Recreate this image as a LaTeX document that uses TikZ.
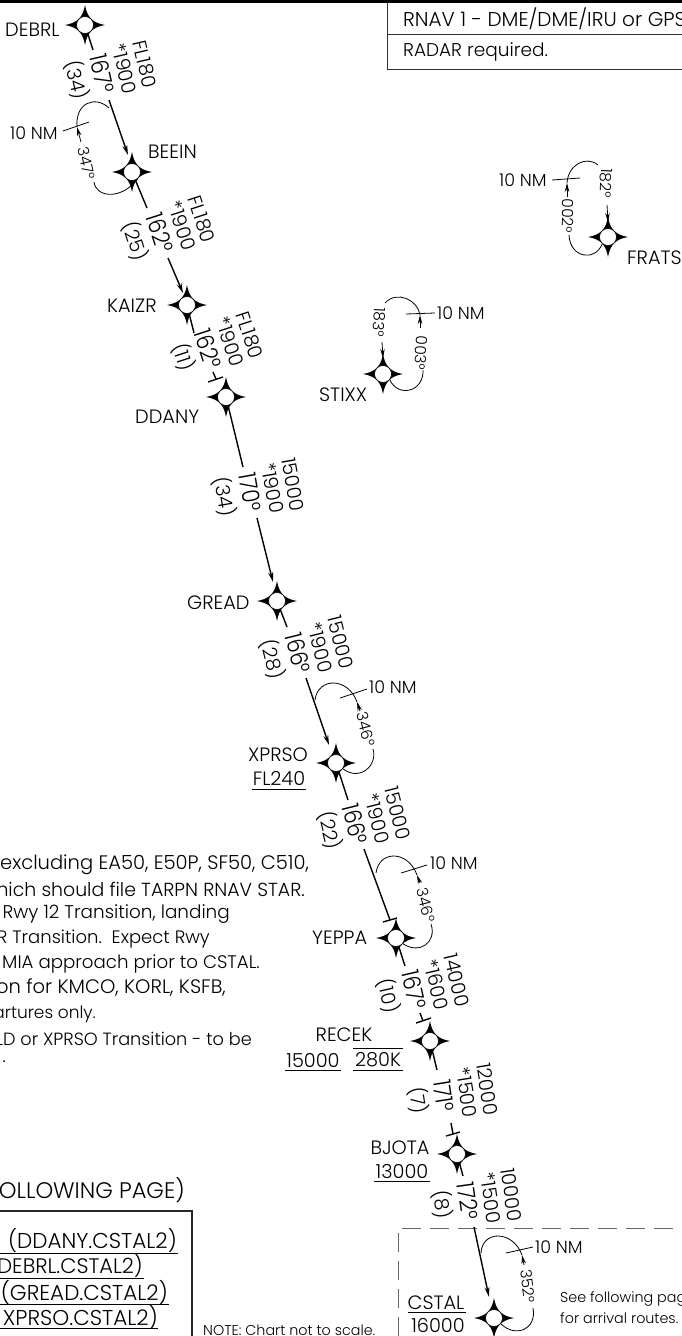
\documentclass[tikz,border=0pt]{standalone}
\usepackage{fontspec}
\setmainfont{Poppins}[UprightFont=* Light]
\usetikzlibrary{arrows.meta}
\newcommand{\fsz}[1]{\fontsize{#1}{#1}\selectfont}
\newcommand{\mkfix}[3]{%
  \begin{scope}[shift={(#2,#3)}]
  \fill[black] (0,-20) .. controls (2,-7.8) and (7.8,-2) .. (20,0)
     .. controls (7.8,2) and (2,7.8) .. (0,20)
     .. controls (-2,7.8) and (-7.8,2) .. (-20,0)
     .. controls (-7.8,-2) and (-2,-7.8) .. (0,-20) -- cycle;
  \end{scope}
  \node[fixc] (#1) at (#2,#3) {};}
% x,y of bearing text; rotation; alt; mea; bearing; distance
\newcommand{\leglab}[7]{%
  \begin{scope}[shift={(#1,#2)},rotate=#3]
    \node[brg,rotate=#3] (#1b) at (0,0) {\scalebox{0.88}[1]{#6}};
    \node[alt,rotate=#3] (#1m) at (0,-23) {#5};
    \node[alt,rotate=#3] (#1a) at (0,-44) {#4};
    \node[alt,rotate=#3] (#1d) at (0,26) {#7};
  \end{scope}}
\tikzset{x=1pt,y=-1pt,
  fixc/.style={circle,draw=black,line width=0.6pt,fill=white,inner sep=0pt,minimum size=17pt},
  lbl/.style={font=\fsz{19.3},inner sep=0pt},
  small/.style={font=\fsz{17.5},inner sep=0pt},
  deg/.style={font=\fsz{15.5},inner sep=0pt},
  tiny/.style={font=\fsz{14.3},inner sep=0pt},
  note/.style={inner sep=0pt},
  brg/.style={font=\fsz{24},inner sep=0pt},
  alt/.style={font=\fsz{19.5},inner sep=0pt},
  leg/.style={line width=1.4pt},
  legarr/.style={line width=1.4pt,-{Stealth[length=10pt,width=5pt]}},
  hold/.style={line width=0.8pt},
  holdarr/.style={line width=0.8pt,-{Stealth[length=9pt,width=4.5pt]}},
  bar/.style={line width=0.8pt}}
\begin{document}
\begin{tikzpicture}
\useasboundingbox (0,0) rectangle (682,1336);
\clip (0,0) rectangle (682,1336);
\fill[white] (0,0) rectangle (682,1336);
\draw[line width=3pt] (0,1.5) -- (682,1.5);
% top-right box
\draw[line width=0.9pt,black!80] (682,69) -- (387,69) -- (387,3);
\draw[line width=0.9pt,black!80] (387,34) -- (682,34);
\node[lbl,font=\fsz{20},anchor=west] (t1) at (403,19) {RNAV 1 - DME/DME/IRU or GPS};
\node[lbl,font=\fsz{18.5},anchor=west] (t2) at (403,52) {RADAR required.};
% dashed box
\draw[line width=1pt,black!60,dash pattern=on 19pt off 9pt] (398,1336) -- (398,1228) -- (682,1228);
% fixes
\mkfix{DEBRL}{85}{25}
\mkfix{BEEIN}{132}{172}
\mkfix{KAIZR}{187}{305}
\mkfix{DDANY}{226}{397}
\mkfix{GREAD}{277}{601}
\mkfix{XPRSO}{336}{763}
\mkfix{YEPPA}{396}{938}
\mkfix{RECEK}{430}{1041}
\mkfix{BJOTA}{457}{1154}
\mkfix{CSTAL}{494}{1318}
\mkfix{STIXX}{383}{374}
\mkfix{FRATS}{608}{237}
% legs
\coordinate (a1) at (93,50); \coordinate (a2) at (109,100); \coordinate (a3) at (128,155);
\draw[leg] (DEBRL) -- (a1); \draw[legarr] (a2) -- (a3);
\coordinate (b1) at (147,208); \coordinate (b2) at (168,258); \coordinate (b3) at (183,293);
\draw[leg] (BEEIN) -- (b1); \draw[legarr] (b2) -- (b3);
\coordinate (c1) at (194,333); \coordinate (c2) at (213,372); \coordinate (c3) at (216,379);
\coordinate (c4) at (208,382); \coordinate (c5) at (223,377);
\draw[leg] (KAIZR) -- (c1); \draw[leg] (c2) -- (c3);
\draw[leg] (c4) -- (c5);
\coordinate (d1) at (243,467); \coordinate (d2) at (257,518); \coordinate (d3) at (273,582);
\draw[leg] (DDANY) -- (d1); \draw[legarr] (d2) -- (d3);
\coordinate (e1) at (287,627); \coordinate (e2) at (306,678); \coordinate (e3) at (329,745);
\draw[leg] (GREAD) -- (e1); \draw[legarr] (e2) -- (e3);
\coordinate (f1) at (348,800); \coordinate (f2) at (364,849); \coordinate (f3) at (390,920);
\coordinate (f4) at (383,922); \coordinate (f5) at (397,918);
\draw[leg] (XPRSO) -- (f1); \draw[leg] (f2) -- (f3);
\draw[leg] (f4) -- (f5);
\coordinate (g1) at (405,966); \coordinate (g2) at (420,1013); \coordinate (g3) at (423,1021);
\coordinate (g4) at (416,1023); \coordinate (g5) at (431,1018);
\draw[leg] (YEPPA) -- (g1); \draw[leg] (g2) -- (g3);
\draw[leg] (g4) -- (g5);
\coordinate (h1) at (437,1070); \coordinate (h2) at (451,1123); \coordinate (h3) at (453,1134);
\coordinate (h4) at (446,1136); \coordinate (h5) at (460,1132);
\draw[leg] (RECEK) -- (h1); \draw[leg] (h2) -- (h3);
\draw[leg] (h4) -- (h5);
\coordinate (i1) at (463,1176); \coordinate (i2) at (474,1227); \coordinate (i3) at (489,1297);
\draw[leg] (BJOTA) -- (i1); \draw[legarr] (i2) -- (i3);
% leg labels
\leglab{102}{74}{-77}{FL180}{*1900}{167°}{(34)}
\leglab{160}{233}{-72}{FL180}{*1900}{162°}{(25)}
\leglab{208}{349}{-72}{FL180}{*1900}{162°}{(11)}
\leglab{250}{492}{-80}{15000}{*1900}{170°}{(34)}
\leglab{298}{653}{-76}{15000}{*1900}{166°}{(28)}
\leglab{355}{824}{-76}{15000}{*1900}{166°}{(22)}
\leglab{414}{990}{-77}{14000}{*1600}{167°}{(10)}
\leglab{444}{1096}{-81}{12000}{*1500}{171°}{(7)}
\leglab{468}{1201}{-82}{10000}{*1500}{172°}{(8)}
% holds
\draw[hold] (109,108) .. controls (95,95) and (75,103) .. (77,127);
\draw[holdarr] (81,142) -- (77,127);
\draw[bar] (63,131) -- (89,122);
\node[small,anchor=west] (h1l) at (10,133) {10 NM};
\node[deg,rotate=-77] (h1b) at (87,163) {347°};
\draw[hold] (94,182) .. controls (96,198) and (122,200) .. (BEEIN.-50);

\draw[hold] (315,700) .. controls (318,677) and (348,677) .. (357,702);
\draw[holdarr] (360,711) -- (357,702);
\draw[bar] (340,698) -- (367,689);
\node[small,anchor=west] (h2l) at (369,687) {10 NM};
\node[deg,rotate=-76] (h2b) at (366,729) {346°};
\draw[hold] (373,749) .. controls (378,765) and (360,782) .. (XPRSO.-40);

\draw[hold] (376,873) .. controls (379,850) and (408,850) .. (417,875);
\draw[holdarr] (420,883) -- (417,875);
\draw[bar] (401,873) -- (427,865);
\node[small,anchor=west] (h3l) at (430,863) {10 NM};
\node[deg,rotate=-76] (h3b) at (426,905) {346°};
\draw[hold] (431,924) .. controls (437,942) and (420,955) .. (YEPPA.-40);

\draw[hold] (481,1253) .. controls (482,1230) and (513,1230) .. (522,1255);
\draw[holdarr] (524,1265) -- (522,1255);
\draw[bar] (506,1253) -- (533,1247);
\node[small,anchor=west] (h4l) at (535,1247) {10 NM};
\node[deg,rotate=-82] (h4b) at (528,1286) {352°};
\draw[hold] (533,1308) .. controls (537,1330) and (515,1338) .. (CSTAL.-40);

\draw[hold] (385,303) .. controls (397,290) and (418,300) .. (420,315);
\draw[holdarr] (420,328) -- (420,315);
\draw[bar] (406,314) -- (435,313);
\node[small,anchor=west] (h5l) at (437,313) {10 NM};
\node[deg,rotate=-93] (h5b) at (421,353) {003°};
\node[deg,rotate=-93] (h5c) at (379,322) {183°};
\draw[holdarr] (382,342) -- (383,358);
\draw[hold] (423,370) .. controls (424,392) and (398,398) .. (STIXX.-40);

\draw[hold] (598,165) .. controls (586,155) and (568,165) .. (567,183);
\draw[holdarr] (567,197) -- (567,183);
\draw[bar] (552,180) -- (580,178);
\node[small,anchor=west] (h6l) at (499,180) {10 NM};
\node[deg,rotate=-92] (h6b) at (568,216) {002°};
\node[deg,rotate=-92] (h6c) at (606,183) {182°};
\draw[holdarr] (607,205) -- (608,222);
\draw[hold] (569,235) .. controls (570,258) and (595,262) .. (FRATS.-130);
% fix labels
\node[lbl,anchor=west] (n1) at (5,30) {DEBRL};
\node[lbl,anchor=west] (n2) at (148,152) {BEEIN};
\node[lbl,anchor=west] (n3) at (107,306) {KAIZR};
\node[lbl,anchor=west] (n4) at (135,417) {DDANY};
\node[lbl,anchor=west] (n5) at (319,395) {STIXX};
\node[lbl,anchor=west] (n6) at (627,258) {FRATS};
\node[lbl,anchor=west] (n7) at (187,603) {GREAD};
\node[lbl] (n8) at (278,755) {XPRSO};
\node[lbl] (n8b) at (279,778) {FL240};
\draw[line width=0.9pt] (252,789) -- (306,789);
\node[lbl,anchor=west] (n9) at (312,938) {YEPPA};
\node[lbl] (n10) at (344,1035) {RECEK};
\node[lbl] (n10a) at (313,1060) {15000};
\node[lbl] (n10b) at (378,1060) {280K};
\draw[line width=0.9pt] (285,1070) -- (341,1070);
\draw[line width=0.9pt] (353,1048) -- (403,1048);
\draw[line width=0.9pt] (353,1070) -- (403,1070);
\node[lbl] (n11) at (400,1148) {BJOTA};
\node[lbl] (n11b) at (402,1171) {13000};
\draw[line width=0.9pt] (374,1181) -- (430,1181);
\node[lbl] (n12) at (436,1303) {CSTAL};
\draw[line width=0.9pt] (408,1312) -- (466,1312);
\node[lbl] (n12b) at (438,1325) {16000};
% notes
\node[note,font=\fsz{19.5},anchor=west] (m1) at (0,865) {excluding EA50, E50P, SF50, C510,};
\node[note,font=\fsz{18.9},anchor=east] (m2) at (305,889) {hich should file TARPN RNAV STAR.};
\node[note,font=\fsz{18.4},anchor=east] (m3) at (230,914) {Rwy 12 Transition, landing};
\node[note,font=\fsz{18},anchor=east] (m4) at (210,939) {R Transition.\ \ Expect Rwy};
\node[note,font=\fsz{18.2},anchor=east] (m5) at (260,964) {MIA approach prior to CSTAL.};
\node[note,font=\fsz{19.5},anchor=east] (m6) at (226,988) {on for KMCO, KORL, KSFB,};
\node[note,font=\fsz{17},anchor=east] (m7) at (96,1014) {artures only.};
\node[note,font=\fsz{17.7},anchor=east] (m8) at (252,1039) {LD or XPRSO Transition - to be};
\node[note,font=\fsz{18},anchor=east] (m9) at (6,1062) {.};
\node[note,font=\fsz{22.5},anchor=east] (m10) at (185,1190) {OLLOWING PAGE)};
\draw[line width=2pt,black!85] (0,1211) -- (192,1211) -- (192,1336);
\node[note,font=\fsz{21.5},anchor=east] (p1) at (177,1240) {(DDANY.CSTAL2)};
\node[note,font=\fsz{21},anchor=east] (p2) at (143,1266) {DEBRL.CSTAL2)};
\node[note,font=\fsz{21.5},anchor=east] (p3) at (168,1292) {(GREAD.CSTAL2)};
\node[note,font=\fsz{21.5},anchor=east] (p4) at (158,1317) {XPRSO.CSTAL2)};
\foreach \y/\x in {1253/178,1278/144,1304/169,1328/158}
  \draw[line width=0.9pt] (0,\y) -- (\x,\y);
\node[tiny,anchor=west] (m11) at (203,1330) {NOTE: Chart not to scale.};
\node[tiny,anchor=west] (m12) at (560,1299) {See following page};
\node[tiny,anchor=west] (m13) at (560,1318) {for arrival routes.};
\end{tikzpicture}
\end{document}
